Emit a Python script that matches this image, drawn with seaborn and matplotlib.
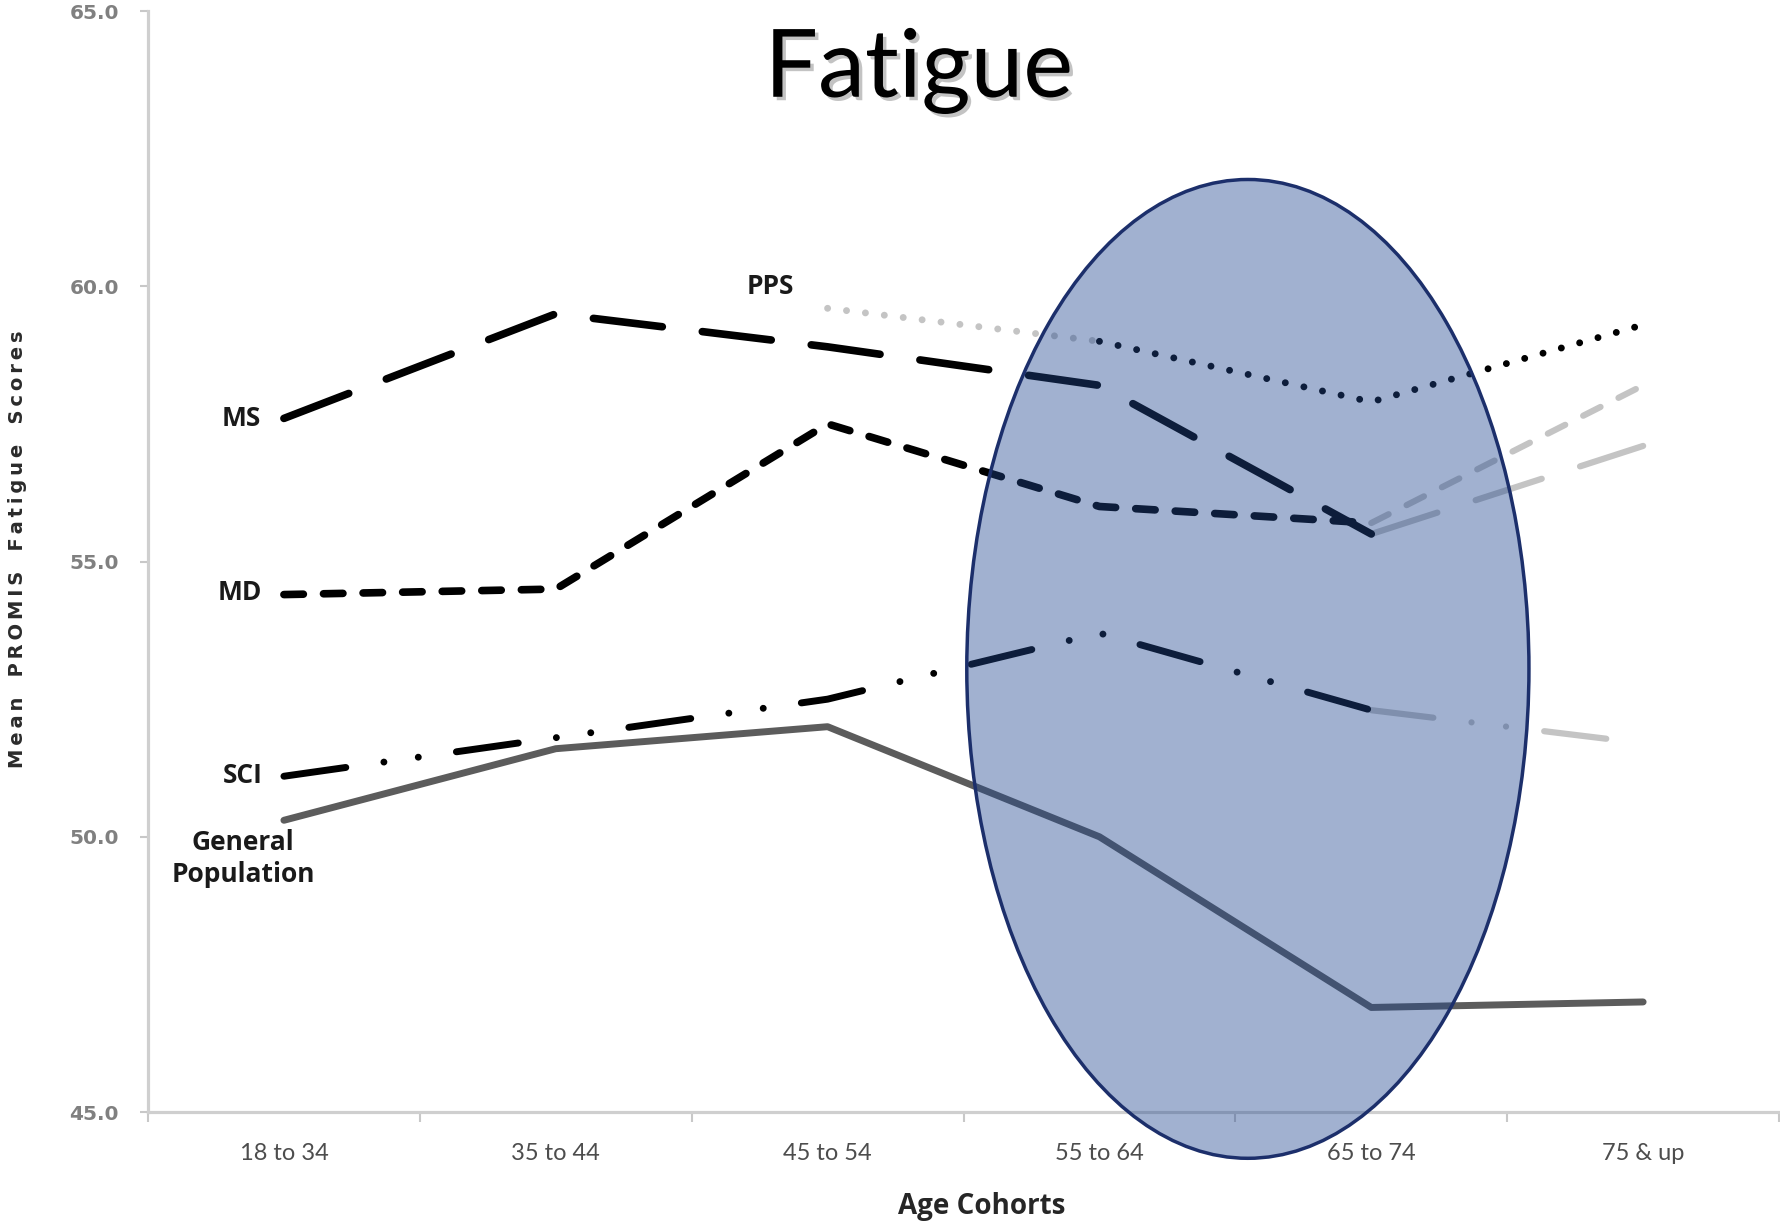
import numpy as np
import pandas as pd
import seaborn as sns
import matplotlib
matplotlib.use("Agg")
import matplotlib.pyplot as plt
from matplotlib.patches import Ellipse
import matplotlib.patheffects as pe

# Age cohorts and mean PROMIS fatigue scores per group
cohorts = ["18 to 34", "35 to 44", "45 to 54", "55 to 64", "65 to 74", "75 & up"]
general_population = [50.3, 51.6, 52.0, 50.0, 46.9, 47.0]
sci_scores = [51.1, 51.8, 52.5, 53.7, 52.3, 51.7]
md_scores = [54.4, 54.5, 57.5, 56.0, 55.7, 58.2]
ms_scores = [57.6, 59.5, 58.9, 58.2, 55.5, 57.1]
pps_scores = [np.nan, np.nan, 59.6, 59.0, 57.9, 59.3]
y_ticks = [45.0, 50.0, 55.0, 60.0, 65.0]

sns.set_style("white")
plt.rcParams["lines.scale_dashes"] = False

fig = plt.figure(figsize=(17.81, 12.25), dpi=100)
ax = fig.add_axes([0.0831, 0.0922, 0.9158, 0.8988])

pos = np.arange(len(cohorts))
FADED = "#c4c4c4"


def segment(values, start, stop, color, lw, ls, z=3):
    df = pd.DataFrame({"pos": pos[start:stop + 1],
                       "score": values[start:stop + 1]})
    sns.lineplot(data=df, x="pos", y="score", ax=ax, color=color,
                 linewidth=lw, linestyle=ls, estimator=None, sort=False,
                 dash_capstyle="round", solid_capstyle="round",
                 solid_joinstyle="round", zorder=z)


ms_ls = (0, (50, 29))
md_ls = (0, (14, 14.5))
sci_ls = (0, (45, 27.7, 0.01, 25, 0.01, 27.7))
pps_ls = (0, (0.01, 13.7))

# General population: solid grey
segment(general_population, 0, 5, "#5c5c5c", 5, "-")
# SCI: dash-dot-dot, last stretch greyed
segment(sci_scores, 0, 4, "black", 5, sci_ls)
segment(sci_scores, 4, 5, FADED, 4.5, sci_ls, z=2)
# MD: short dashes
segment(md_scores, 0, 4, "black", 5.5, md_ls)
segment(md_scores, 4, 5, FADED, 4.5, md_ls, z=2)
# MS: long dashes
segment(ms_scores, 0, 4, "black", 5.5, ms_ls)
segment(ms_scores, 4, 5, FADED, 4.5, ms_ls, z=2)
# PPS: dotted, first stretch greyed
segment(pps_scores, 2, 3, FADED, 5, pps_ls, z=2)
segment(pps_scores, 3, 5, "black", 5, pps_ls)

# Axes styling
ax.set_xlim(-0.5, len(cohorts) - 0.5)
ax.set_ylim(45, 65)
ax.set_yticks(y_ticks)
ax.set_yticklabels([f"{v:.1f}" for v in y_ticks],
                   fontfamily="DejaVu Sans", fontweight="bold",
                   fontsize=14.5, color="#808080")
ax.set_xticks(pos)
ax.set_xticklabels(cohorts, fontfamily="Lato", fontsize=17, color="#4d4d4d")
ax.set_xticks(np.arange(-0.5, len(cohorts)), minor=True)
ax.tick_params(axis="x", which="major", length=0, pad=22)
ax.tick_params(axis="x", which="minor", length=7, width=1.5,
               color="#c8c8c8", direction="out", bottom=True)
ax.tick_params(axis="y", which="major", length=6, width=1.5,
               color="#c8c8c8", direction="out", pad=15, left=True)
for side in ("top", "right"):
    ax.spines[side].set_visible(False)
for side in ("left", "bottom"):
    ax.spines[side].set_color("#cfcfcf")
    ax.spines[side].set_linewidth(2.3)

ax.set_xlabel("Age Cohorts", fontfamily="Open Sans", fontweight="bold",
              fontsize=20, color="#262626", va="center")
ax.xaxis.set_label_coords(0.511, -0.0855)
ylab = "\u2009".join("Mean") + "   " + "\u2009".join("PROMIS") + "   " + \
    "\u2009".join("Fatigue") + "   " + "\u2009".join("Scores")
ax.set_ylabel(ylab, fontfamily="DejaVu Sans", fontweight="bold",
              fontsize=14, color="#2b2b2b", va="center")
ax.yaxis.set_label_coords(-0.0803, 0.511)

# Series names beside the lines
lab = dict(fontfamily="Open Sans", fontweight="bold", fontsize=19,
           color="#1a1a1a", ha="center", va="center")
ax.text(1.79, 60.0, "PPS", **lab)
ax.text(-0.158, 57.6, "MS", **lab)
ax.text(-0.162, 54.43, "MD", **lab)
ax.text(-0.15, 51.12, "SCI", **lab)
ax.text(-0.15, 49.61, "General\nPopulation", linespacing=1.25, **lab)

# Highlighted older cohorts
oval = Ellipse((3.546, 53.05), 2.068, 17.78,
               facecolor=(0.13, 0.28, 0.56, 0.42), edgecolor="#1c2f6b",
               linewidth=2.5, zorder=10, clip_on=False)
ax.add_patch(oval)

# Title with soft drop shadow
fig.text(0.516, 0.921, "Fatigue", fontfamily="Lato", fontsize=68,
         color="black", ha="center", va="baseline",
         path_effects=[pe.SimplePatchShadow(offset=(2.5, -2.5),
                                            shadow_rgbFace="#888888",
                                            alpha=0.5),
                       pe.Normal()])

fig.savefig("out.png", dpi=100, facecolor="white")
